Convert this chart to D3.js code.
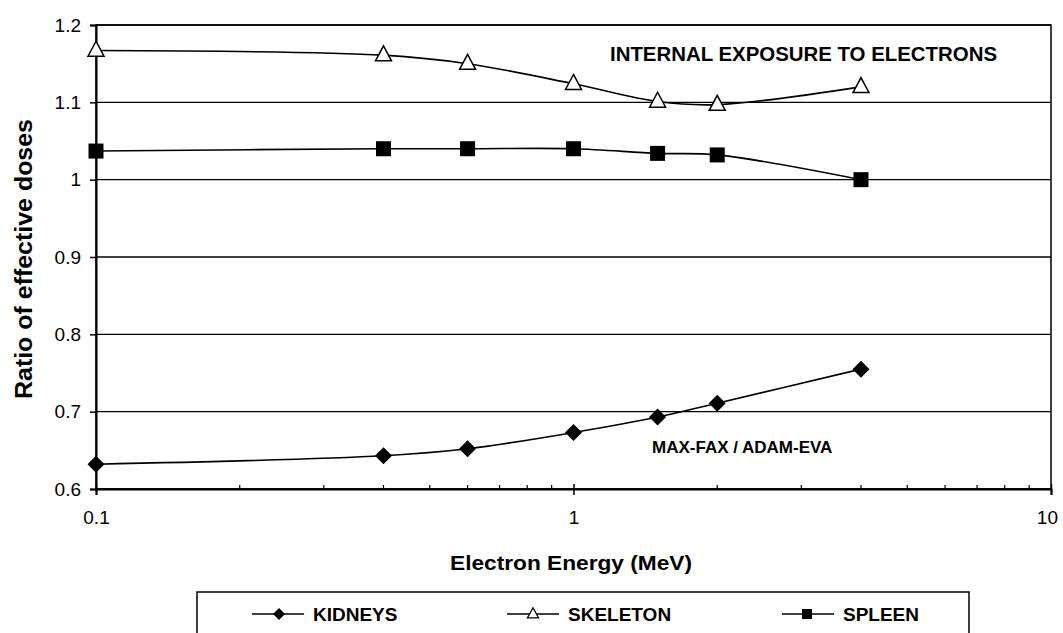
<!DOCTYPE html>
<html><head><meta charset="utf-8">
<script src="https://cdn.jsdelivr.net/npm/d3@7"></script>
<style>
html,body{margin:0;padding:0;background:#fff;}
svg{display:block;font-family:Arial,"Liberation Sans",sans-serif;}
</style></head>
<body><svg id="c" width="1063" height="633"></svg>
<script>
const energies = [0.1, 0.4, 0.6, 1, 1.5, 2, 4];
const kidneys  = [0.632, 0.643, 0.652, 0.673, 0.693, 0.711, 0.755];
const skeleton = [1.167, 1.161, 1.150, 1.124, 1.101, 1.097, 1.120];
const spleen   = [1.037, 1.040, 1.040, 1.040, 1.034, 1.032, 1.000];
const seriesNames = ["KIDNEYS", "SKELETON", "SPLEEN"];
const yTicks = [0.6, 0.7, 0.8, 0.9, 1, 1.1, 1.2];
const yTickLabels = ["0.6", "0.7", "0.8", "0.9", "1", "1.1", "1.2"];
const xMajor = [0.1, 1, 10];
const xMajorLabels = ["0.1", "1", "10"];
const xMinor = [0.2,0.3,0.4,0.5,0.6,0.7,0.8,0.9,2,3,4,5,6,7,8,9];
const xTitle = "Electron Energy (MeV)";
const yTitle = "Ratio of effective doses";
const note1 = "INTERNAL EXPOSURE TO ELECTRONS";
const note2 = "MAX-FAX / ADAM-EVA";

const svg = d3.select("#c");
const L = 96, R = 1051, T = 25, B = 489;
const x = d3.scaleLog().domain([0.1, 10]).range([L, R]);
const y = d3.scaleLinear().domain([0.6, 1.2]).range([B, T]);

// gridlines
svg.append("g").selectAll("line").data(yTicks).join("line")
  .attr("x1", L).attr("x2", R).attr("y1", d => y(d)).attr("y2", d => y(d))
  .attr("stroke", "#000").attr("stroke-width", 1.4);

// border
svg.append("rect").attr("x", L).attr("y", T).attr("width", R - L).attr("height", B - T)
  .attr("fill", "none").attr("stroke", "#000").attr("stroke-width", 1.5);

// y axis
const yAxis = d3.axisLeft(y).tickValues(yTicks)
  .tickFormat((d, i) => yTickLabels[i]).tickSize(6).tickPadding(9);
const gy = svg.append("g").attr("transform", `translate(${L},0)`).call(yAxis);
gy.select(".domain").attr("stroke", "#000").attr("stroke-width", 2);
gy.selectAll(".tick line").attr("stroke", "#000").attr("stroke-width", 1.5);
gy.selectAll(".tick text").attr("font-size", 19).attr("fill", "#000")
  .attr("font-family", "Arial, 'Liberation Sans', sans-serif");

// x axis major
const xAxis = d3.axisBottom(x).tickValues(xMajor)
  .tickFormat((d, i) => xMajorLabels[i]).tickSize(6).tickPadding(16);
const gx = svg.append("g").attr("transform", `translate(0,${B})`).call(xAxis);
gx.select(".domain").attr("stroke", "#000").attr("stroke-width", 2);
gx.selectAll(".tick line").attr("stroke", "#000").attr("stroke-width", 1.5).attr("y1", -5);
gx.selectAll(".tick text").attr("font-size", 19).attr("fill", "#000")
  .attr("font-family", "Arial, 'Liberation Sans', sans-serif");
gx.selectAll(".tick text").each(function() {
  const bb = this.getBBox();
  const t = d3.select(this.parentNode).attr("transform");
  const tx = +/translate\(([-\d.]+)/.exec(t)[1];
  if (tx + bb.x + bb.width > 1058) d3.select(this).attr("dx", 1058 - (tx + bb.x + bb.width));
});
// x minor ticks
svg.append("g").selectAll("line").data(xMinor).join("line")
  .attr("x1", d => x(d)).attr("x2", d => x(d)).attr("y1", B - 4).attr("y2", B)
  .attr("stroke", "#000").attr("stroke-width", 1.2);

// lines
const line = d3.line().x(d => x(d[0])).y(d => y(d[1])).curve(d3.curveCatmullRom.alpha(0.5));
const allSeries = [kidneys, skeleton, spleen];
allSeries.forEach(s => {
  svg.append("path").datum(energies.map((e, i) => [e, s[i]]))
    .attr("d", line).attr("fill", "none").attr("stroke", "#000").attr("stroke-width", 1.6);
});

// markers
const diamond = (s) => `M0,${-s}L${s},0L0,${s}L${-s},0Z`;
const tri = (w, h) => `M0,${-h*0.62}L${w/2},${h*0.38}L${-w/2},${h*0.38}Z`;
svg.append("g").selectAll("path").data(energies.map((e, i) => [e, kidneys[i]])).join("path")
  .attr("transform", d => `translate(${x(d[0])},${y(d[1])})`)
  .attr("d", diamond(8.5)).attr("fill", "#000");
svg.append("g").selectAll("path").data(energies.map((e, i) => [e, skeleton[i]])).join("path")
  .attr("transform", d => `translate(${x(d[0])},${y(d[1])})`)
  .attr("d", tri(16, 15)).attr("fill", "#fff").attr("stroke", "#000").attr("stroke-width", 1.5);
svg.append("g").selectAll("rect").data(energies.map((e, i) => [e, spleen[i]])).join("rect")
  .attr("x", d => x(d[0]) - 7.5).attr("y", d => y(d[1]) - 7.5)
  .attr("width", 15).attr("height", 15).attr("fill", "#000");

// annotations
svg.append("text").attr("x", 610).attr("y", 61).attr("font-size", 20).attr("font-weight", "bold")
  .attr("textLength", 387).attr("lengthAdjust", "spacingAndGlyphs").text(note1);
svg.append("text").attr("x", 652).attr("y", 453).attr("font-size", 17).attr("font-weight", "bold")
  .text(note2);

// axis titles
svg.append("text").attr("x", 571).attr("y", 570).attr("text-anchor", "middle")
  .attr("font-size", 21).attr("font-weight", "bold")
  .attr("textLength", 242).attr("lengthAdjust", "spacingAndGlyphs").text(xTitle);
svg.append("text").attr("transform", "translate(32,259) rotate(-90)").attr("text-anchor", "middle")
  .attr("font-size", 23).attr("font-weight", "bold")
  .attr("textLength", 280).attr("lengthAdjust", "spacingAndGlyphs").text(yTitle);

// legend
svg.append("rect").attr("x", 197).attr("y", 592).attr("width", 969 - 197).attr("height", 60)
  .attr("fill", "#fff").attr("stroke", "#000").attr("stroke-width", 1.5);
const legX = [252, 507, 782];
const legY = 614;
seriesNames.forEach((name, i) => {
  const g = svg.append("g").attr("transform", `translate(${legX[i]},${legY})`);
  g.append("line").attr("x1", 0).attr("x2", 52).attr("y1", 0).attr("y2", 0)
    .attr("stroke", "#000").attr("stroke-width", 1.5);
  if (i === 0) g.append("path").attr("transform", "translate(27,0)").attr("d", diamond(6)).attr("fill", "#000");
  if (i === 1) g.append("path").attr("transform", "translate(26,0)").attr("d", tri(11, 10))
    .attr("fill", "#fff").attr("stroke", "#000").attr("stroke-width", 1.3);
  if (i === 2) g.append("rect").attr("x", 20).attr("y", -5).attr("width", 10).attr("height", 10).attr("fill", "#000");
  g.append("text").attr("x", 61).attr("y", 7).attr("font-size", 19).attr("font-weight", "bold").text(name);
});
</script></body></html>
